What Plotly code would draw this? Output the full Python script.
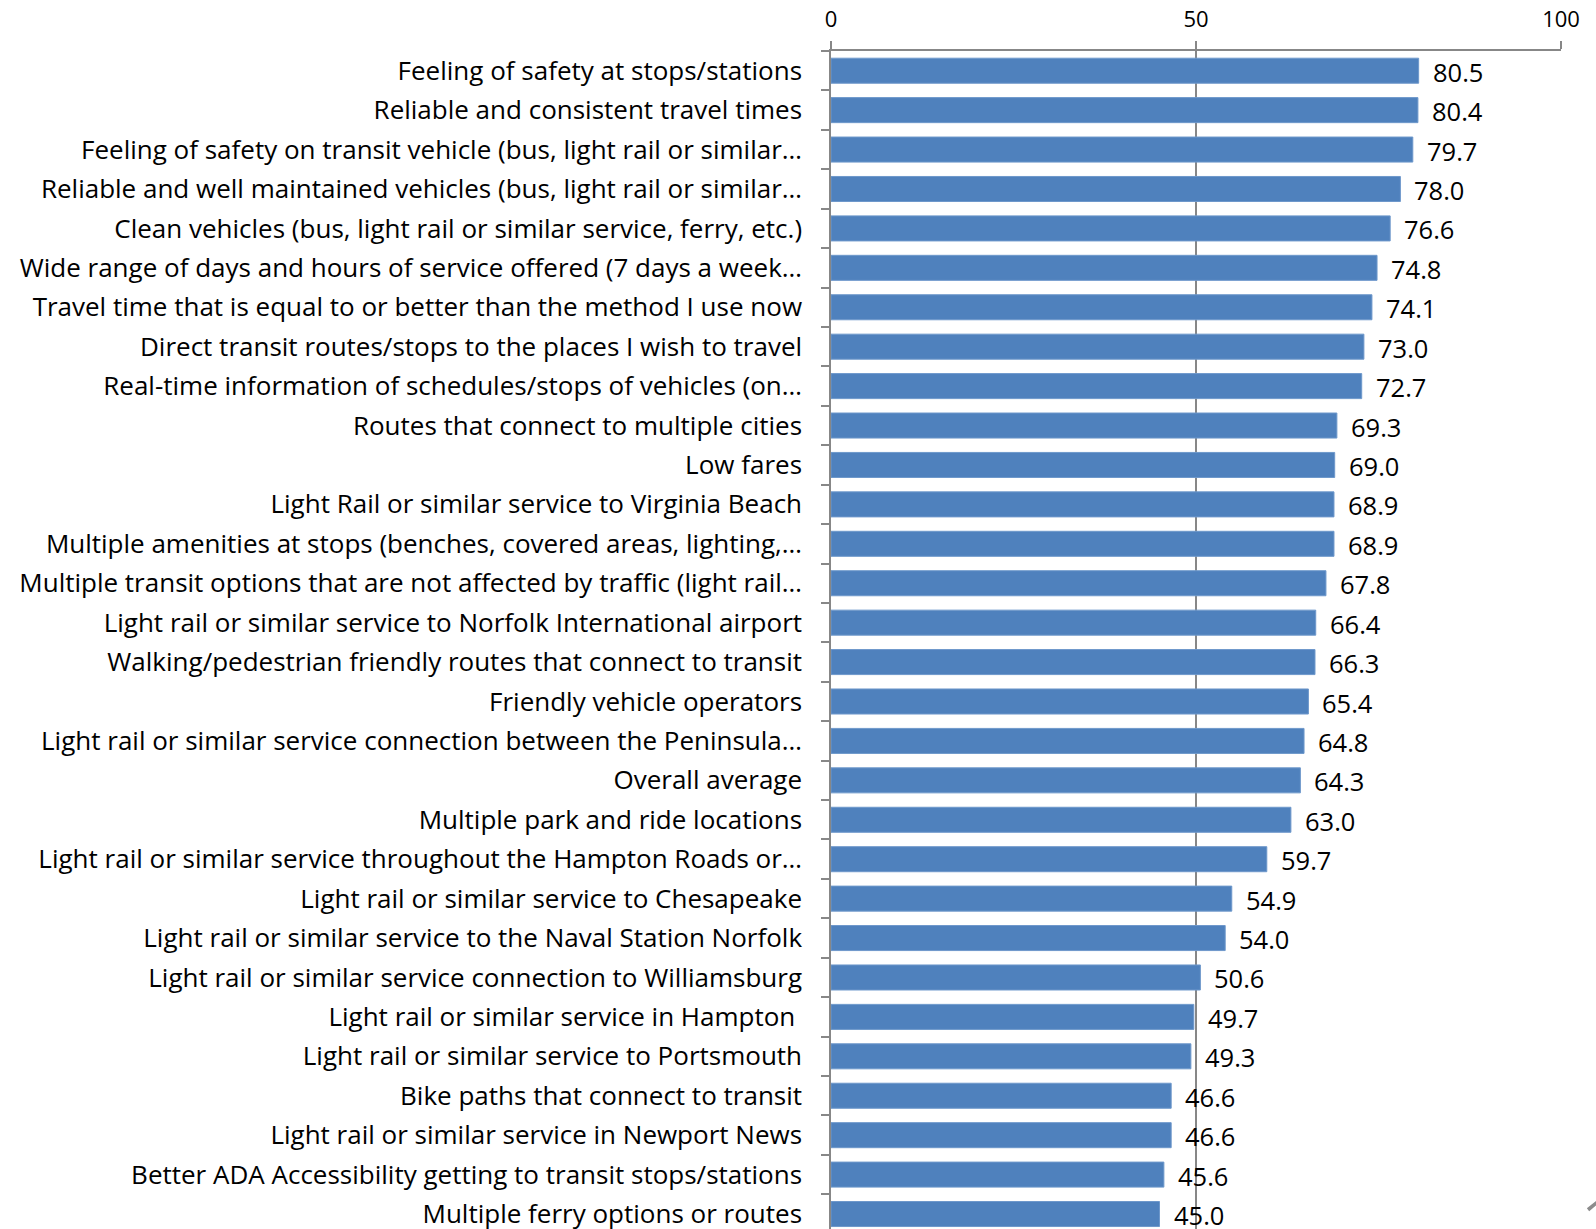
import plotly.graph_objects as go

categories = [
    "Feeling of safety at stops/stations",
    "Reliable and consistent travel times",
    "Feeling of safety on transit vehicle (bus, light rail or similar…",
    "Reliable and well maintained vehicles (bus, light rail or similar…",
    "Clean vehicles (bus, light rail or similar service, ferry, etc.)",
    "Wide range of days and hours of service offered (7 days a week…",
    "Travel time that is equal to or better than the method I use now",
    "Direct transit routes/stops to the places I wish to travel",
    "Real-time information of schedules/stops of vehicles (on…",
    "Routes that connect to multiple cities",
    "Low fares",
    "Light Rail or similar service to Virginia Beach",
    "Multiple amenities at stops (benches, covered areas, lighting,…",
    "Multiple transit options that are not affected by traffic (light rail…",
    "Light rail or similar service to Norfolk International airport",
    "Walking/pedestrian friendly routes that connect to transit",
    "Friendly vehicle operators",
    "Light rail or similar service connection between the Peninsula…",
    "Overall average",
    "Multiple park and ride locations",
    "Light rail or similar service throughout the Hampton Roads or…",
    "Light rail or similar service to Chesapeake",
    "Light rail or similar service to the Naval Station Norfolk",
    "Light rail or similar service connection to Williamsburg",
    "Light rail or similar service in Hampton\u00a0",
    "Light rail or similar service to Portsmouth",
    "Bike paths that connect to transit",
    "Light rail or similar service in Newport News",
    "Better ADA Accessibility getting to transit stops/stations",
    "Multiple ferry options or routes",
]
values = [80.5, 80.4, 79.7, 78.0, 76.6, 74.8, 74.1, 73.0, 72.7, 69.3,
          69.0, 68.9, 68.9, 67.8, 66.4, 66.3, 65.4, 64.8, 64.3, 63.0,
          59.7, 54.9, 54.0, 50.6, 49.7, 49.3, 46.6, 46.6, 45.6, 45.0]
x_ticks = [0, 50, 100]

FONT = "Open Sans"
fig = go.Figure()
fig.add_trace(go.Bar(
    y=categories, x=values, orientation="h",
    marker=dict(color="#4F81BD", line=dict(color="#6E98CB", width=1)),
    cliponaxis=True, hoverinfo="skip",
))
for c, v in zip(categories, values):
    fig.add_annotation(x=v, y=c, text=f"{v:.1f}", showarrow=False,
                       xanchor="left", xshift=12, yshift=-1,
                       font=dict(family=FONT, size=25.5, color="#000000"))

fig.add_annotation(xref="paper", yref="paper", x=1, y=0, xshift=19,
                   yshift=50, yanchor="top",
                   text="1", showarrow=False, xanchor="left",
                   font=dict(family=FONT, size=54, color="#8C8C8C"))

fig.update_layout(
    width=1596, height=1229,
    margin=dict(l=831, r=35, t=51, b=0, autoexpand=False),
    paper_bgcolor="white", plot_bgcolor="white",
    showlegend=False,
    bargap=0.365,
    font=dict(family=FONT, size=26, color="#000000"),
)
fig.update_xaxes(
    side="top", range=[0, 100], tickvals=x_ticks,
    ticktext=[str(t) for t in x_ticks], automargin=False,
    showgrid=True, gridcolor="#878787", gridwidth=1.5,
    showline=True, linecolor="#878787", linewidth=1.5,
    ticks="outside", ticklen=8, tickcolor="#878787", tickwidth=1.5,
    ticklabelstandoff=5,
    tickfont=dict(family=FONT, size=22, color="#000000"),
    zeroline=False,
)
fig.update_yaxes(
    type="category", range=[29.38, -0.5], automargin=False,
    showline=True, linecolor="#878787", linewidth=1.5,
    ticks="outside", ticklen=8, tickcolor="#878787", tickwidth=1.5,
    tickson="boundaries", ticklabelstandoff=22,
    tickfont=dict(family=FONT, size=26, color="#000000"),
    showgrid=False,
)
fig.write_html("out.html",
               config={"displayModeBar": False},
               post_script="document.body.style.margin='0';")
